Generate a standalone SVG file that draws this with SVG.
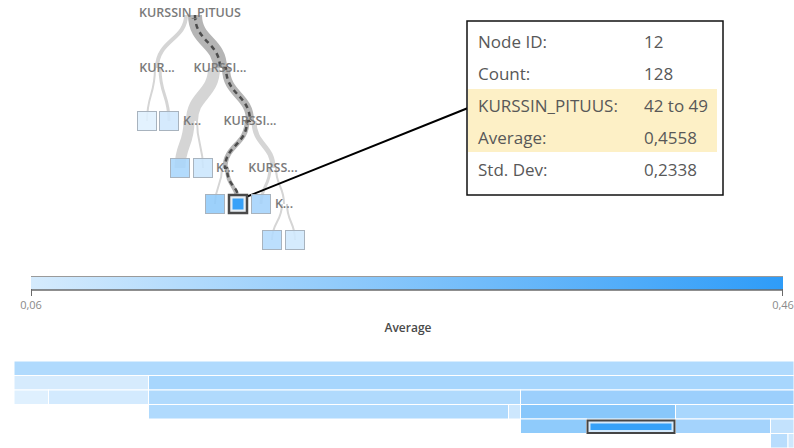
<svg xmlns="http://www.w3.org/2000/svg" width="794" height="448" viewBox="0 0 794 448">
<style>
.lbl{font-family:"Open Sans","Liberation Sans",sans-serif;font-size:12.5px;font-weight:600;fill:#7a7a7a;text-anchor:middle}
.lnk{fill:none;stroke:#d5d5d5}
.hl{fill:none;stroke:#b5b5b5}
.dash{fill:none;stroke:#4d4d4d;stroke-width:2.5;stroke-dasharray:5 4}
.leaf{stroke:#a8b3be;stroke-width:1;fill-opacity:0.88}
.tt{font-family:"Open Sans","Liberation Sans",sans-serif;font-size:17px;fill:#585858}
.cell{stroke:#fff;stroke-width:1}
.ax{font-family:"Open Sans","Liberation Sans",sans-serif;font-size:11px;fill:#8a8a8a;text-anchor:middle}
</style>
<defs>
<linearGradient id="grad" x1="0" y1="0" x2="1" y2="0">
<stop offset="0" stop-color="#d5ebfd"/>
<stop offset="1" stop-color="#2e9cf8"/>
</linearGradient>
</defs>
<rect width="794" height="448" fill="#fff"/>

<g id="connectors">
<path class="lnk" stroke-width="4" d="M186,15 C186,40 157,40 157,68"/>
<path class="hl" stroke-width="14" d="M195,15 C195,42 220,42 220,68"/>
<path class="lnk" stroke-width="2" d="M155,68 C155,95 147,95 147,121"/>
<path class="lnk" stroke-width="3" d="M160,68 C160,95 169,95 169,121"/>
<path class="lnk" stroke-width="12" d="M214,68 C214,95 192,95 192,121"/>
<path class="hl" stroke-width="8" stroke="#a5a5a5" d="M226,68 C226,95 250,95 250,121"/>
<path class="lnk" stroke-width="11" d="M189,121 C189,145 180,145 180,168"/>
<path class="lnk" stroke-width="2" d="M197,121 C197,145 203,145 203,168"/>
<path class="hl" stroke-width="5" stroke="#8a8a8a" d="M247,121 C247,145 225,145 225,168"/>
<path class="lnk" stroke-width="5" d="M254,121 C254,145 273,145 273,168"/>
<path class="lnk" stroke-width="2" d="M222,168 C222,186 215,186 215,204"/>
<path class="hl" stroke-width="4" stroke="#808080" d="M227,168 C227,186 238,186 238,204"/>
<path class="lnk" stroke-width="3" d="M270,168 C270,186 261,186 261,204"/>
<path class="lnk" stroke-width="2" d="M276,168 C276,186 284,186 284,204"/>
<path class="lnk" stroke-width="2" d="M282,204 C282,222 272,222 272,240"/>
<path class="lnk" stroke-width="2" d="M287,204 C287,222 295,222 295,240"/>
<path class="dash" d="M195,15 C195,42 220,42 220,68 C226,68 226,68 226,68 C226,95 250,95 250,121 C247,121 247,121 247,121 C247,145 225,145 225,168 C227,168 227,168 227,168 C227,186 238,186 238,197"/>
<line x1="246" y1="197" x2="468" y2="108" stroke="#000" stroke-width="2"/>
</g>

<g id="node-root"><text class="lbl" x="190" y="17">KURSSIN_PITUUS</text></g>
<g id="node-A"><text class="lbl" x="157" y="72">KUR...</text></g>
<g id="node-B"><text class="lbl" x="220" y="72">KURSSI...</text></g>
<g id="leaf-A1"><rect class="leaf" x="137.5" y="111.5" width="19" height="19" fill="#dff0fe"/></g>
<g id="leaf-A2"><rect class="leaf" x="159.5" y="111.5" width="19" height="19" fill="#cfe7fd"/></g>
<g id="node-C"><text class="lbl" x="192" y="125">K...</text></g>
<g id="node-D"><text class="lbl" x="250" y="125">KURSSI...</text></g>
<g id="leaf-C1"><rect class="leaf" x="170.5" y="158.5" width="19" height="19" fill="#a9d6fc"/></g>
<g id="leaf-C2"><rect class="leaf" x="193.5" y="158.5" width="19" height="19" fill="#cbe6fd"/></g>
<g id="node-E"><text class="lbl" x="225" y="172">K...</text></g>
<g id="node-F"><text class="lbl" x="273" y="172">KURSS...</text></g>
<g id="leaf-E1"><rect class="leaf" x="205.5" y="194.5" width="19" height="19" fill="#8fcbfb"/></g>
<g id="leaf-E2">
<rect x="229" y="195" width="18" height="18" fill="#e8eef3" stroke="#4a4a4a" stroke-width="2.5"/>
<rect x="232.5" y="198.5" width="11" height="11" fill="#38a1f8"/>
</g>
<g id="leaf-F1"><rect class="leaf" x="251.5" y="194.5" width="19" height="19" fill="#a4d3fc"/></g>
<g id="node-G"><text class="lbl" x="284" y="208">K...</text></g>
<g id="leaf-G1"><rect class="leaf" x="262.5" y="230.5" width="19" height="19" fill="#b3dbfd"/></g>
<g id="leaf-G2"><rect class="leaf" x="285.5" y="230.5" width="19" height="19" fill="#cfe8fd"/></g>

<g id="tooltip">
<rect x="467" y="21" width="256" height="174" fill="#fff" stroke="#111" stroke-width="1.5"/>
<rect x="468" y="89" width="249" height="63" fill="#fdf0c6"/>
<text class="tt" x="478" y="48">Node ID:</text><text class="tt" x="644" y="48">12</text>
<text class="tt" x="478" y="80">Count:</text><text class="tt" x="644" y="80">128</text>
<text class="tt" x="478" y="112">KURSSIN_PITUUS:</text><text class="tt" x="644" y="112">42 to 49</text>
<text class="tt" x="478" y="144">Average:</text><text class="tt" x="644" y="144">0,4558</text>
<text class="tt" x="478" y="176">Std. Dev:</text><text class="tt" x="644" y="176">0,2338</text>
</g>

<g id="legend">
<rect x="31" y="276" width="752" height="14" fill="url(#grad)"/>
<line x1="31" y1="276.5" x2="783" y2="276.5" stroke="#9a9a9a" stroke-width="1"/>
<line x1="31" y1="290" x2="783" y2="290" stroke="#6a6a6a" stroke-width="1.5"/>
<line x1="31.5" y1="289" x2="31.5" y2="296" stroke="#6a6a6a" stroke-width="1"/>
<line x1="782.5" y1="289" x2="782.5" y2="296" stroke="#6a6a6a" stroke-width="1"/>
<text class="ax" x="31" y="309">0,06</text>
<text class="ax" x="783" y="309">0,46</text>
<text x="408" y="332" font-family="'Open Sans','Liberation Sans',sans-serif" font-size="12" font-weight="600" fill="#4a4a4a" text-anchor="middle">Average</text>
</g>

<g id="icicle">
<rect class="cell" x="14" y="361" width="780" height="14.5" fill="#b0dafd"/>
<rect class="cell" x="14" y="375.5" width="134.5" height="14.5" fill="#d6ebfd"/>
<rect class="cell" x="148.5" y="375.5" width="645.5" height="14.5" fill="#a7d6fd"/>
<rect class="cell" x="14" y="390" width="34.5" height="14.5" fill="#dff0fe"/>
<rect class="cell" x="48.5" y="390" width="100" height="14.5" fill="#d3eafe"/>
<rect class="cell" x="148.5" y="390" width="372" height="14.5" fill="#b0dafd"/>
<rect class="cell" x="520.5" y="390" width="273.5" height="14.5" fill="#9ccffc"/>
<rect class="cell" x="148.5" y="404.5" width="360" height="14.5" fill="#b0dafd"/>
<rect class="cell" x="508.5" y="404.5" width="12" height="14.5" fill="#cde7fd"/>
<rect class="cell" x="520.5" y="404.5" width="155" height="14.5" fill="#88c7fb"/>
<rect class="cell" x="675.5" y="404.5" width="118.5" height="14.5" fill="#a9d7fd"/>
<rect class="cell" x="520.5" y="419" width="66" height="14.5" fill="#8fcbfb"/>
<rect class="cell" x="675.5" y="419" width="95" height="14.5" fill="#a4d3fc"/>
<rect class="cell" x="770.5" y="419" width="23.5" height="14.5" fill="#c3e2fd"/>
<rect class="cell" x="770.5" y="433.5" width="17.5" height="14.5" fill="#b8ddfd"/>
<rect class="cell" x="788" y="433.5" width="6" height="14.5" fill="#cfe8fd"/>
<rect x="587.5" y="420.5" width="87" height="12.5" fill="#d4e9fb" stroke="#454545" stroke-width="2"/>
<rect x="590.5" y="423.5" width="81" height="6.5" fill="#36a1f8"/>
</g>
</svg>
